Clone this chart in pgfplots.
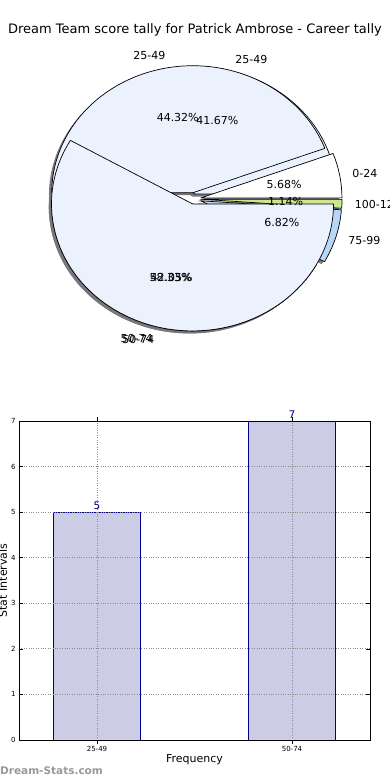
\documentclass[border=0pt]{standalone}
\usepackage{fontspec}
\setmainfont{DejaVu Sans}
\usepackage{pgfplots}
\pgfplotsset{compat=1.18}
\definecolor{pieblue}{RGB}{235,242,254}
\definecolor{pieblue2}{RGB}{184,214,246}
\definecolor{piegreen}{RGB}{205,232,140}
\definecolor{pieshadow}{RGB}{120,120,124}
\definecolor{barfill}{RGB}{204,204,230}
\definecolor{baredge}{RGB}{0,0,140}
\newcommand\labfont{\fontsize{11}{13}\selectfont}
% count / colour / explode / label / layer
\def\pieA{5/pieblue/0.04/25-49/1,7/pieblue/0.04/50-74/3}
\def\pieB{5/white/0.05/0-24/2,39/pieblue/0.05/25-49/2,37/pieblue/0.04/50-74/2,6/pieblue2/0.05/75-99/2,1/piegreen/0.05/100-124/2}
% #1 list, #2 total, #3 mode (0 shadow, 1 wedges, 2 labels), #4 layer
\newcommand\drawpie[4]{%
  \xdef\cum{0}%
  \foreach \pv/\col/\ex/\lab/\lay in #1 {%
    \pgfmathsetmacro\angS{\cum}%
    \pgfmathsetmacro\angE{\cum+360*\pv/#2}%
    \pgfmathsetmacro\angM{(\angS+\angE)/2}%
    \pgfmathsetmacro\px{194+\ex*141*cos(\angM)}%
    \pgfmathsetmacro\py{581+\ex*127*sin(\angM)}%
    \ifcase#3
      \pgfmathsetmacro\qx{\px-2.8}%
      \pgfmathsetmacro\qy{\py-2.5}%
      \fill[pieshadow] (axis cs:\qx,\qy) -- ++(\angS:141pt and 127pt) arc[start angle=\angS,end angle=\angE,x radius=141pt,y radius=127pt] -- cycle;
    \or
      \ifnum\lay=#4
        \filldraw[fill=\col,draw=black,line width=0.7pt,line join=round] (axis cs:\px,\py) -- ++(\angS:141pt and 127pt) arc[start angle=\angS,end angle=\angE,x radius=141pt,y radius=127pt] -- cycle;
      \fi
    \or
      \pgfmathsetmacro\lx{\px+1.09*141*cos(\angM)}%
      \pgfmathsetmacro\lyy{\py+1.1*127*sin(\angM)}%
      \pgfmathtruncatemacro\isright{cos(\angM)>0}%
      \ifnum\isright=1 \def\anc{west}\else\def\anc{east}\fi
      \node[anchor=\anc,font=\labfont,inner sep=0pt] at (axis cs:\lx,\lyy) {\lab};
      \pgfmathsetmacro\tx{\px+0.6*141*cos(\angM)}%
      \pgfmathsetmacro\ty{\py+0.6*127*sin(\angM)}%
      \pgfmathsetmacro\pct{100*\pv/#2}%
      \node[font=\labfont,inner sep=0pt] at (axis cs:\tx,\ty) {\pgfmathprintnumber[fixed,fixed zerofill,precision=2,assume math mode=true]{\pct}\%};
    \fi
    \xdef\cum{\angE}%
  }%
}
\begin{document}
\begin{tikzpicture}
\useasboundingbox (0,0) rectangle (390pt,780pt);
\begin{axis}[at={(0pt,0pt)},anchor=south west,x=1pt,y=1pt,xmin=0,xmax=390,ymin=0,ymax=780,hide axis,clip=false]
\pgfplotsextra{%
  \drawpie{\pieA}{12}{0}{0}%
  \drawpie{\pieB}{88}{0}{0}%
  \drawpie{\pieA}{12}{1}{1}%
  \drawpie{\pieB}{88}{1}{2}%
  \drawpie{\pieA}{12}{1}{3}%
  \drawpie{\pieA}{12}{2}{0}%
  \drawpie{\pieB}{88}{2}{0}%
  \node[font=\fontsize{13}{15}\selectfont] at (axis cs:195,750) {Dream Team score tally for Patrick Ambrose - Career tally};
  \node[anchor=west,inner sep=0pt,font=\bfseries\fontsize{10.5}{13}\selectfont,text=black!40] at (axis cs:0,9.5) {Dream-Stats.com};
}
\end{axis}
\begin{axis}[at={(19pt,40pt)},anchor=south west,width=351pt,height=319pt,scale only axis,
  xmin=-0.4,xmax=1.4,ymin=0,ymax=7,
  xtick={0,1},xticklabels={25-49,50-74},ytick={0,1,...,7},
  axis on top,
  grid=major,grid style={black!45,dotted,line width=0.8pt},
  tick align=inside,tick pos=both,major tick length=4pt,
  tick style={black,line width=0.6pt},
  ticklabel style={font=\fontsize{7}{8}\selectfont},
  xticklabel style={yshift=1pt},
  /pgf/number format/assume math mode=true,
  xlabel={Frequency},ylabel={Stat Intervals},
  label style={font=\fontsize{11}{13}\selectfont},
  xlabel style={at={(axis description cs:0.5,-0.0627)},anchor=center},
  ylabel style={at={(axis description cs:-0.046,0.5)},anchor=center},
  axis line style={line width=0.8pt},
  ybar,bar width=0.45,
  nodes near coords,
  nodes near coords style={font=\fontsize{10.5}{12}\selectfont,text=baredge,anchor=south,inner sep=2.5pt},
]
\addplot[fill=barfill,draw=baredge,line width=0.8pt] coordinates {(0,5) (1,7)};
\end{axis}
\end{tikzpicture}
\end{document}
